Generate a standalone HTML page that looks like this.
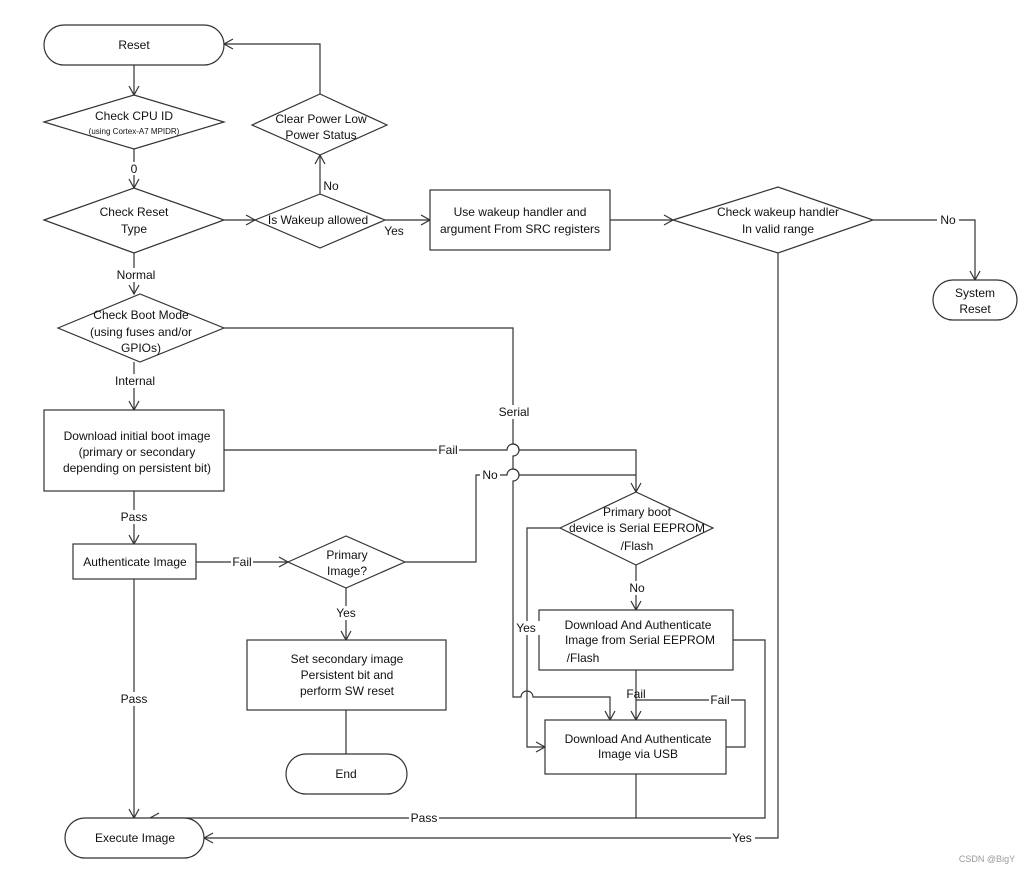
<!DOCTYPE html>
<html><head><meta charset="utf-8"><style>
html,body{margin:0;padding:0;background:#fff;}
svg{display:block;}
text{font-family:"Liberation Sans",Arial,sans-serif;font-size:12px;fill:#111;text-anchor:middle;}
.s{fill:none;stroke:#333;stroke-width:1.2;}
.b{fill:#fff;stroke:#333;stroke-width:1.2;}
.lb{fill:#fff;}
</style></head><body>
<svg width="1030" height="873" viewBox="0 0 1030 873" xmlns="http://www.w3.org/2000/svg">
<defs><marker id="a" markerWidth="12" markerHeight="12" refX="10" refY="6" orient="auto" markerUnits="userSpaceOnUse"><path d="M1,1 L10,6 L1,11" fill="none" stroke="#333" stroke-width="1.2"/></marker></defs>

<!-- connectors -->
<path class="s" d="M134,65 V95" marker-end="url(#a)"/>
<path class="s" d="M134,149 V188" marker-end="url(#a)"/>
<path class="s" d="M224,220 H255" marker-end="url(#a)"/>
<path class="s" d="M320,194 V155" marker-end="url(#a)"/>
<path class="s" d="M320,94 V44 H224" marker-end="url(#a)"/>
<path class="s" d="M385,220 H430" marker-end="url(#a)"/>
<path class="s" d="M610,220 H673" marker-end="url(#a)"/>
<path class="s" d="M873,220 H975 V280" marker-end="url(#a)"/>
<path class="s" d="M778,253 V838 H204" marker-end="url(#a)"/>
<path class="s" d="M134,253 V294" marker-end="url(#a)"/>
<path class="s" d="M134,362 V410" marker-end="url(#a)"/>
<path class="s" d="M224,328 H513 V444 a6,6 0 0 1 0,12 V469 a6,6 0 0 1 0,12 V697 H521 a6,6 0 0 1 12,0 H610 V720" marker-end="url(#a)"/>
<path class="s" d="M224,450 H507 a6,6 0 0 1 12,0 H636 V492" marker-end="url(#a)"/>
<path class="s" d="M405,562 H476 V475 H507 a6,6 0 0 1 12,0 H636" />
<path class="s" d="M134,491 V544" marker-end="url(#a)"/>
<path class="s" d="M196,562 H288" marker-end="url(#a)"/>
<path class="s" d="M346,588 V640" marker-end="url(#a)"/>
<path class="s" d="M346,710 V754"/>
<path class="s" d="M134,579 V818" marker-end="url(#a)"/>
<path class="s" d="M560,528 H527 V747 H545" marker-end="url(#a)"/>
<path class="s" d="M636,565 V610" marker-end="url(#a)"/>
<path class="s" d="M636,670 V720" marker-end="url(#a)"/>
<path class="s" d="M726,747 H745 V700 H636"/>
<path class="s" d="M733,640 H765 V818 H150" marker-end="url(#a)"/>
<path class="s" d="M636,774 V818"/>

<!-- shapes -->
<rect class="b" x="44" y="25" width="180" height="40" rx="20"/>
<polygon class="b" points="44,122 134,95 224,122 134,149"/>
<polygon class="b" points="44,220 134,188 224,220 134,253"/>
<polygon class="b" points="255,220 320,194 385,220 320,248"/>
<polygon class="b" points="252,125 320,94 387,125 320,155"/>
<rect class="b" x="430" y="190" width="180" height="60"/>
<polygon class="b" points="673,220 778,187 873,220 778,253"/>
<rect class="b" x="933" y="280" width="84" height="40" rx="20"/>
<polygon class="b" points="58,328 140,294 224,328 140,362"/>
<rect class="b" x="44" y="410" width="180" height="81"/>
<rect class="b" x="73" y="544" width="123" height="35"/>
<polygon class="b" points="288,562 346,536 405,562 346,588"/>
<rect class="b" x="247" y="640" width="199" height="70"/>
<rect class="b" x="286" y="754" width="121" height="40" rx="20"/>
<polygon class="b" points="560,528 636,492 713,528 636,565"/>
<rect class="b" x="539" y="610" width="194" height="60"/>
<rect class="b" x="545" y="720" width="181" height="54"/>
<rect class="b" x="65" y="818" width="139" height="40" rx="20"/>

<!-- node text -->
<text x="134" y="49">Reset</text>
<text x="134" y="120">Check CPU ID</text>
<text x="134" y="134" style="font-size:8px">(using Cortex-A7 MPIDR)</text>
<text x="134" y="216">Check Reset</text>
<text x="134" y="233">Type</text>
<text x="318" y="224">Is Wakeup allowed</text>
<text x="321" y="123">Clear Power Low</text>
<text x="321" y="139">Power Status</text>
<text x="520" y="216">Use wakeup handler and</text>
<text x="520" y="233">argument From SRC registers</text>
<text x="778" y="216">Check wakeup handler</text>
<text x="778" y="233">In valid range</text>
<text x="975" y="297">System</text>
<text x="975" y="313">Reset</text>
<text x="141" y="319">Check Boot Mode</text>
<text x="141" y="336">(using fuses and/or</text>
<text x="141" y="352">GPIOs)</text>
<text x="137" y="440">Download initial boot image</text>
<text x="137" y="456">(primary or secondary</text>
<text x="137" y="472">depending on persistent bit)</text>
<text x="135" y="566">Authenticate Image</text>
<text x="347" y="559">Primary</text>
<text x="347" y="575">Image?</text>
<text x="347" y="663">Set secondary image</text>
<text x="347" y="679">Persistent bit and</text>
<text x="347" y="695">perform SW reset</text>
<text x="346" y="778">End</text>
<text x="637" y="516">Primary boot</text>
<text x="637" y="532">device is Serial EEPROM</text>
<text x="637" y="550">/Flash</text>
<text x="638" y="629">Download And Authenticate</text>
<text x="640" y="644">Image from Serial EEPROM</text>
<text x="583" y="662">/Flash</text>
<text x="638" y="743">Download And Authenticate</text>
<text x="638" y="758">Image via USB</text>
<text x="135" y="842">Execute Image</text>

<!-- edge labels -->
<rect class="lb" x="128" y="162" width="12" height="13"/><text x="134" y="173">0</text>
<text x="331" y="190">No</text>
<text x="394" y="235">Yes</text>
<rect class="lb" x="937" y="213" width="22" height="14"/><text x="948" y="224">No</text>
<rect class="lb" x="112" y="268" width="46" height="14"/><text x="136" y="279">Normal</text>
<rect class="lb" x="112" y="374" width="46" height="14"/><text x="135" y="385">Internal</text>
<rect class="lb" x="497" y="405" width="34" height="14"/><text x="514" y="416">Serial</text>
<rect class="lb" x="437" y="443" width="22" height="14"/><text x="448" y="454">Fail</text>
<rect class="lb" x="480" y="468" width="20" height="14"/><text x="490" y="479">No</text>
<rect class="lb" x="119" y="510" width="30" height="14"/><text x="134" y="521">Pass</text>
<rect class="lb" x="231" y="555" width="22" height="14"/><text x="242" y="566">Fail</text>
<rect class="lb" x="334" y="606" width="24" height="14"/><text x="346" y="617">Yes</text>
<rect class="lb" x="514" y="621" width="26" height="14"/><text x="526" y="632">Yes</text>
<rect class="lb" x="626" y="581" width="20" height="14"/><text x="637" y="592">No</text>
<rect class="lb" x="119" y="692" width="30" height="14"/><text x="134" y="703">Pass</text>
<text x="636" y="698">Fail</text>
<rect class="lb" x="709" y="693" width="22" height="14"/><text x="720" y="704">Fail</text>
<rect class="lb" x="409" y="811" width="30" height="14"/><text x="424" y="822">Pass</text>
<rect class="lb" x="731" y="831" width="24" height="14"/><text x="742" y="842">Yes</text>
<text x="987" y="862" style="font-size:9px;fill:#999">CSDN @BigY</text>
</svg>
</body></html>
